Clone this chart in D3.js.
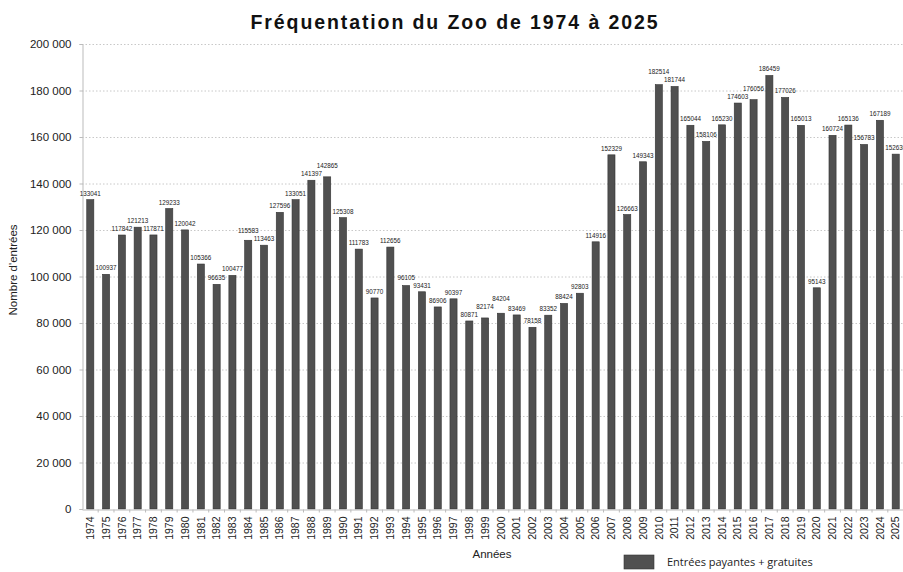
<!DOCTYPE html>
<html><head><meta charset="utf-8">
<script src="https://cdn.jsdelivr.net/npm/d3@7/dist/d3.min.js"></script>
<style>body{margin:0;background:#fff}svg{display:block}</style>
</head><body><svg id="c" width="903" height="572"></svg>
<script>
const years = d3.range(1974, 2026).map(String);
const visitors = [133041,100937,117842,121213,117871,129233,120042,105366,96635,100477,
115583,113463,127596,133051,141397,142865,125308,111783,90770,112656,
96105,93431,86906,90397,80871,82174,84204,83469,78158,83352,
88424,92803,114916,152329,126663,149343,182514,181744,165044,158106,
165230,174603,176056,186459,177026,165013,95143,160724,165136,156783,
167189,152630];
const yTicks = [0,20000,40000,60000,80000,100000,120000,140000,160000,180000,200000];
const title = "Fréquentation du Zoo de 1974 à 2025";
const yLabel = "Nombre d'entrées";
const xLabel = "Années";
const legendLabel = "Entrées payantes + gratuites";

const svg = d3.select("#c");
const m = {l:82, r:904, t:44, b:509};
const x = d3.scaleBand().domain(years).range([m.l, m.r]).paddingInner(0.55).paddingOuter(0.3);
const y = d3.scaleLinear().domain([0,200000]).range([m.b, m.t]);
const fmt = v => d3.format(",")(v).replace(/,/g, " ");

// grid
svg.append("g").selectAll("line").data(yTicks.filter(d=>d>0)).join("line")
  .attr("x1", m.l).attr("x2", 903).attr("y1", d=>y(d)+0.5).attr("y2", d=>y(d)+0.5)
  .attr("stroke", "#c8c8c8").attr("stroke-dasharray", "1.5,2");

// y axis
const ya = svg.append("g").attr("transform", `translate(${m.l+0.5},0)`)
  .call(d3.axisLeft(y).tickValues(yTicks).tickFormat(fmt).tickSize(3).tickPadding(8));
ya.select(".domain").attr("stroke", "#bbb");
ya.selectAll(".tick line").attr("stroke", "#bbb");
ya.selectAll("text").attr("font-family", "Liberation Sans, Arial, sans-serif").attr("font-size", 11.5).attr("fill", "#222");

// bars
svg.append("g").selectAll("rect").data(visitors).join("rect")
  .attr("x", (d,i)=>x(years[i])).attr("width", x.bandwidth())
  .attr("y", d=>y(d)).attr("height", d=>y(0)-y(d))
  .attr("fill", "#505050").attr("stroke", "#333").attr("stroke-width", 0.6);

// value labels with simple collision avoidance between neighbours
const ly = visitors.map(d => y(d) - 4);
for (let i = 1; i < ly.length; i++) {
  if (Math.abs(ly[i] - ly[i-1]) < 8) {
    if (visitors[i] >= visitors[i-1]) ly[i] = ly[i-1] - 8;
    else ly[i-1] = ly[i] - 8;
  }
}
svg.append("g").selectAll("text").data(visitors).join("text")
  .attr("x", (d,i)=>x(years[i]) + x.bandwidth()/2).attr("y", (d,i)=>ly[i])
  .attr("text-anchor", "middle").attr("font-family", "Liberation Sans, Arial, sans-serif")
  .attr("font-size", 6.3).attr("fill", "#222").text(d=>d);

// x axis
const xa = svg.append("g").attr("transform", `translate(0,${m.b+0.5})`)
  .call(d3.axisBottom(x).tickSize(3).tickSizeOuter(0));
xa.select(".domain").attr("stroke", "#bbb");
xa.selectAll(".tick line").attr("stroke", "#bbb").attr("transform", `translate(${x.step()/2},0)`);
xa.selectAll("text").attr("font-family", "Liberation Sans, Arial, sans-serif").attr("font-size", 10.5).attr("fill", "#222")
  .attr("transform", "rotate(-90)").attr("text-anchor", "end").attr("dy", "0.35em").attr("x", -7).attr("y", 0);

// title
svg.append("text").attr("x", 455).attr("y", 29).attr("text-anchor", "middle")
  .attr("font-family", "Liberation Sans, Arial, sans-serif").attr("font-weight", "bold")
  .attr("font-size", 19.5).attr("letter-spacing", 1.9).attr("fill", "#111").text(title);

// y label
svg.append("text").attr("transform", "translate(17,270) rotate(-90)").attr("text-anchor", "middle")
  .attr("font-family", "Liberation Sans, Arial, sans-serif").attr("font-size", 11.5).attr("fill", "#222").text(yLabel);

// x label
svg.append("text").attr("x", 492).attr("y", 558).attr("text-anchor", "middle")
  .attr("font-family", "Liberation Sans, Arial, sans-serif").attr("font-size", 11.5).attr("fill", "#222").text(xLabel);

// legend
svg.append("rect").attr("x", 624).attr("y", 555).attr("width", 30).attr("height", 14)
  .attr("fill", "#505050").attr("stroke", "#333").attr("stroke-width", 0.6);
svg.append("text").attr("x", 667).attr("y", 566).attr("font-family", "Open Sans, sans-serif")
  .attr("font-size", 11).attr("fill", "#222").text(legendLabel);
</script></body></html>
